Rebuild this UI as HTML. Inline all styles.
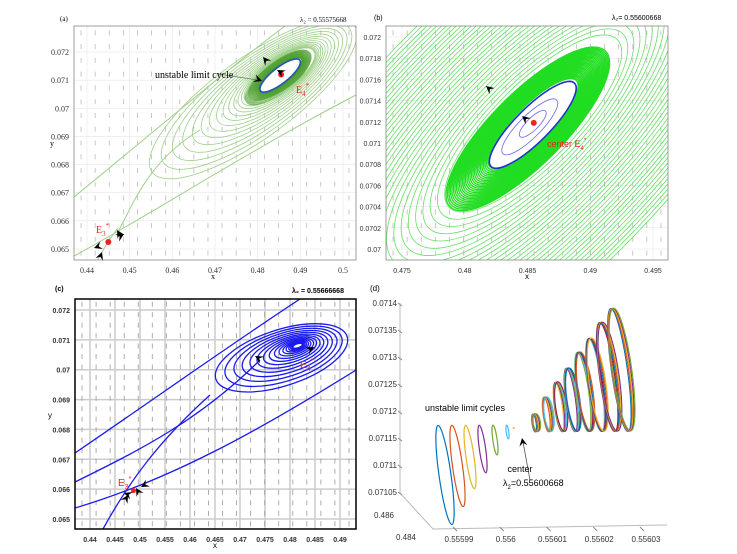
<!DOCTYPE html>
<html><head><meta charset="utf-8"><style>
body{margin:0;background:#fff;width:737px;height:554px;overflow:hidden}
svg{display:block}
.ser{font-family:"Liberation Serif",serif}
.san{font-family:"Liberation Sans",sans-serif}
</style></head><body>
<svg id="fig" width="737" height="554" viewBox="0 0 737 554" xmlns="http://www.w3.org/2000/svg">
<defs>
<clipPath id="ca"><rect x="74" y="26" width="282" height="234"/></clipPath>
<clipPath id="cb"><rect x="386" y="26" width="282" height="234"/></clipPath>
<clipPath id="cc"><rect x="75" y="299" width="281" height="230"/></clipPath>
</defs>
<g id="pa"></g>
<g id="pb"></g>
<g id="pc"></g>
<g id="pd"></g>
</svg>
<script>
// ---- data ----
const aXTicks=[0.44,0.45,0.46,0.47,0.48,0.49,0.5];
const aYTicks=[0.065,0.066,0.067,0.068,0.069,0.07,0.071,0.072];
const aE4=[0.4855,0.0712], aE3=[0.445,0.06525];
const bXTicks=[0.475,0.48,0.485,0.49,0.495];
const bYTicks=[0.07,0.0702,0.0704,0.0706,0.0708,0.071,0.0712,0.0714,0.0716,0.0718,0.072];
const bE4=[0.4855,0.07119];
const cXTicks=[0.44,0.445,0.45,0.455,0.46,0.465,0.47,0.475,0.48,0.485,0.49];
const cYTicks=[0.065,0.066,0.067,0.068,0.069,0.07,0.071,0.072];
const cE4=[0.4815,0.0708], cE3=[0.4487,0.06595];
const dZTicks=[0.07105,0.0711,0.07115,0.0712,0.07125,0.0713,0.07135,0.0714];
const dLamTicks=[0.55599,0.556,0.55601,0.55602,0.55603];
const dLeftLam=[0.555985,0.555989,0.555993,0.555997,0.556001,0.556005];
const dLeftAmp=[0.000050,0.000041,0.000032,0.000024,0.000015,0.000007];
const dCenterLam=0.55600668;
const dRightLam=[0.5560135,0.5560174,0.5560213,0.5560252,0.5560291,0.556033,0.5560369,0.5560408];
const dRightAmp=[0.000009,0.0000175,0.000025,0.000032,0.00004,0.000047,0.000055,0.000062];
const dColors=["#0072bd","#d95319","#edb120","#7e2f8e","#77ac30","#4dbeee","#a2142f"];
// ---- helpers ----
const NS="http://www.w3.org/2000/svg";
function mk(p,t,a,txt){const e=document.createElementNS(NS,t);for(const k in a)e.setAttribute(k,a[k]);if(txt!==undefined)e.textContent=txt;p.appendChild(e);return e;}
function lin(d0,d1,r0,r1){return v=>r0+(v-d0)*(r1-r0)/(d1-d0);}
function quiver(g,x0,y0,w,h,nx,ny,col){for(let i=0;i<nx;i++)for(let j=0;j<ny;j++){const x=x0+(i+0.5)*w/nx,y=y0+(j+0.5)*h/ny;const e=mk(g,'line',{x1:x,y1:y-2.5,x2:x,y2:y+2.5,stroke:col,'stroke-width':0.8});

}}
function arrow(g,x,y,ang,col){const e=mk(g,'path',{d:'M0,0 L-8,-4 L-5,0 L-8,4 Z',fill:col||'#000',transform:`translate(${x},${y}) rotate(${ang})`});

}
function frame(g,X,Y,xt,yt,x0,y0,w,h,cls,fmt,grid,fs,bold){
 mk(g,'rect',{x:x0,y:y0,width:w,height:h,fill:'#fff',stroke:'none'});
 xt.forEach(v=>{const x=X(v);if(grid)mk(g,'line',{x1:x,y1:y0,x2:x,y2:y0+h,stroke:grid,'stroke-width':grid=='#ccc'?1.5:0.6});
  const t=mk(g,'text',{x:x,y:y0+h+13,'text-anchor':'middle','font-size':fs,class:cls,'font-weight':bold?'bold':'normal',fill:'#333'},fmt(v));
  
  });
 yt.forEach(v=>{const y=Y(v);if(grid)mk(g,'line',{x1:x0,y1:y,x2:x0+w,y2:y,stroke:grid,'stroke-width':grid=='#ccc'?1.5:0.6});
  const t=mk(g,'text',{x:x0-5,y:y+3,'text-anchor':'end','font-size':fs,class:cls,'font-weight':bold?'bold':'normal',fill:'#333'},fmt(v));
  
  });
}
// ---- panel a ----
(function(){
 const g=document.getElementById('pa');
 const X=lin(0.44,0.5,87,343),Y=lin(0.065,0.072,249,52);
 frame(g,X,Y,aXTicks,aYTicks,74,26,282,234,'ser',v=>String(+v.toFixed(3)),'#e6e6e6',8);
 quiver(g,74,26,282,234,20,17,'#bbb');
 const c=mk(g,'g',{'clip-path':'url(#ca)'});
 const cx=X(aE4[0]),cy=Y(aE4[1]);
 for(let k=0;k<26;k++){const s=k/25,a=26+s*s*14,b=8+s*s*7,ox=-s*3,oy=s*3;
  mk(c,'ellipse',{cx:cx+ox,cy:cy+oy,rx:a,ry:b,transform:`rotate(-38 ${cx+ox} ${cy+oy})`,fill:'none',stroke:'#4fa030','stroke-width':1.2,opacity:0.7});}
 for(let k=0;k<16;k++){const s=(k+1)/16,a=40+s*s*85,b=15+s*s*25,ox=-s*s*28,oy=s*s*24;
  mk(c,'ellipse',{cx:cx+ox,cy:cy+oy,rx:a,ry:b,transform:`rotate(-36 ${cx+ox} ${cy+oy})`,fill:'none',stroke:'#9fd08a','stroke-width':0.8});}
 const sep=['M74,197 C150,135 220,75 285,26','M118,232 C135,200 150,160 200,130','M74,256 C150,215 250,150 356,95','M97,262 C105,245 112,236 118,228'];
 sep.forEach(d=>{const p=mk(c,'path',{d:d,fill:'none',stroke:'#9fd08a','stroke-width':1});
  
  });
 const lc=mk(c,'ellipse',{cx:cx-1,cy:cy+1,rx:25,ry:8,transform:`rotate(-38 ${cx-1} ${cy+1})`,fill:'#fff',stroke:'#2a5aa8','stroke-width':1.8});
 
 
 mk(g,'rect',{x:74,y:26,width:282,height:234,fill:'none',stroke:'#888','stroke-width':0.8});
 mk(g,'circle',{cx:cx,cy:cy,r:3,fill:'#e22'});mk(g,'circle',{cx:X(aE3[0]),cy:Y(aE3[1]),r:3,fill:'#e22'});
 arrow(g,263,57,-130);arrow(g,277,70,-150);arrow(g,262,81,20);arrow(g,117,230,-120);arrow(g,124,234,-30);arrow(g,94,248,160);arrow(g,102,252,-70);
 mk(g,'line',{x1:218,y1:74,x2:258,y2:80,stroke:'#666','stroke-width':0.7});
 mk(g,'text',{x:155,y:78,'font-size':10,class:'ser'},'unstable limit cycle');
 mk(g,'text',{x:296,y:93,'font-size':10,class:'ser',fill:'#e22'}).innerHTML='E<tspan dy="3" font-size="7">4</tspan><tspan dy="-8" font-size="7">*</tspan>';
 mk(g,'text',{x:96,y:233,'font-size':10,class:'ser',fill:'#e22'}).innerHTML='E<tspan dy="3" font-size="7">3</tspan><tspan dy="-8" font-size="7">*</tspan>';
 mk(g,'text',{x:60,y:21,'font-size':7,class:'ser'},'(a)');
 mk(g,'text',{x:300,y:22,'font-size':7,class:'ser'},'λ₂ = 0.55575668');
 mk(g,'text',{x:213,y:279,'font-size':8,class:'ser','text-anchor':'middle'},'x');
 mk(g,'text',{x:50,y:146,'font-size':8,class:'ser'},'y');
})();
// ---- panel b ----
(function(){
 const g=document.getElementById('pb');
 const X=lin(0.475,0.495,402,653),Y=lin(0.07,0.072,249,37);
 frame(g,X,Y,bXTicks,bYTicks,386,26,282,234,'san',v=>String(+v.toFixed(4)),'#e6e6e6',7);
 quiver(g,386,26,282,234,20,17,'#bbb');
 const c=mk(g,'g',{'clip-path':'url(#cb)'});
 const cx=X(bE4[0]),cy=Y(bE4[1]);
 for(let k=0;k<30;k++){const s=k/29,a=60+s*50,b=18+s*18,ox=-s*6,oy=s*6;
  mk(c,'ellipse',{cx:cx+ox,cy:cy+oy,rx:a,ry:b,transform:`rotate(-45 ${cx+ox} ${cy+oy})`,fill:'none',stroke:'#22dd22','stroke-width':1.3});}
 for(let k=0;k<34;k++){const s=(k+1)/34,a=110+s*300,b=36+s*115,ox=-s*20,oy=s*20;
  mk(c,'ellipse',{cx:cx+ox,cy:cy+oy,rx:a,ry:b,transform:`rotate(-45 ${cx+ox} ${cy+oy})`,fill:'none',stroke:'#66e066','stroke-width':0.8});}
 const lc=mk(c,'ellipse',{cx:cx-1,cy:cy+2,rx:59,ry:17,transform:`rotate(-45 ${cx-1} ${cy+2})`,fill:'#fff',stroke:'#2233cc','stroke-width':1.6});
 
 
 mk(c,'ellipse',{cx:cx-4,cy:cy+4,rx:38,ry:11,transform:`rotate(-45 ${cx-4} ${cy+4})`,fill:'none',stroke:'#6666ee','stroke-width':0.8});
 mk(c,'ellipse',{cx:cx-1,cy:cy+1,rx:18,ry:6,transform:`rotate(-45 ${cx-1} ${cy+1})`,fill:'none',stroke:'#6666ee','stroke-width':0.8});
 mk(g,'rect',{x:386,y:26,width:282,height:234,fill:'none',stroke:'#888','stroke-width':0.8});
 mk(g,'circle',{cx:cx,cy:cy,r:3,fill:'#e22'});
 arrow(g,486,86,-140);arrow(g,522,116,-140);
 mk(g,'text',{x:547,y:147,'font-size':9,class:'san',fill:'#e22'}).innerHTML='center E<tspan dy="3" font-size="6">4</tspan><tspan dy="-8" font-size="6">*</tspan>';
 mk(g,'text',{x:374,y:20,'font-size':7,class:'san'},'(b)');
 mk(g,'text',{x:612,y:20,'font-size':7,class:'san'},'λ₂= 0.55600668');
 mk(g,'text',{x:527,y:279,'font-size':8,class:'san','text-anchor':'middle'},'x');
})();
// ---- panel c ----
(function(){
 const g=document.getElementById('pc');
 const X=lin(0.44,0.49,90,340),Y=lin(0.065,0.072,519,310);
 frame(g,X,Y,cXTicks,cYTicks,75,299,281,230,'san',v=>String(+v.toFixed(3)),'#ccc',7,true);
 quiver(g,75,299,281,230,20,22,'#999');
 const c=mk(g,'g',{'clip-path':'url(#cc)'});
 const cx=X(cE4[0]),cy=Y(cE4[1]);
 for(let k=0;k<16;k++){const s=k/15,a=5+s*s*58+s*6,b=2+s*s*24+s*2,ox=-s*s*16,oy=s*s*12;
  mk(c,'ellipse',{cx:cx+ox,cy:cy+oy,rx:a,ry:b,transform:`rotate(-18 ${cx+ox} ${cy+oy})`,fill:'none',stroke:'#1a1aee','stroke-width':1.3});}
 const sep=['M75,453 C160,395 230,345 300,299','M75,482 C140,450 200,420 260,360','M75,508 C170,480 260,430 356,370','M103,529 C130,480 160,440 210,395'];
 sep.forEach(d=>{const p=mk(c,'path',{d:d,fill:'none',stroke:'#1a1aee','stroke-width':1.3});
  
  });
 mk(g,'rect',{x:75,y:299,width:281,height:230,fill:'none',stroke:'#000','stroke-width':1.5});
 mk(g,'circle',{cx:X(cE3[0]),cy:Y(cE3[1]),r:2.5,fill:'#e22'});
 arrow(g,255,356,-150);arrow(g,314,347,-30);arrow(g,136,488,-120);arrow(g,141,487,150);arrow(g,124,493,-160);arrow(g,128,495,-60);
 mk(g,'text',{x:300,y:368,'font-size':10,class:'san',fill:'#e22'}).innerHTML='E<tspan dy="3" font-size="7">4</tspan><tspan dy="-8" font-size="7">*</tspan>';
 mk(g,'text',{x:118,y:486,'font-size':10,class:'san',fill:'#e22'}).innerHTML='E<tspan dy="3" font-size="7">3</tspan><tspan dy="-8" font-size="7">*</tspan>';
 mk(g,'text',{x:55,y:291,'font-size':7,class:'san','font-weight':'bold'},'(c)');
 mk(g,'text',{x:292,y:293,'font-size':7,class:'san','font-weight':'bold'},'λ₂ = 0.55666668');
 mk(g,'text',{x:215,y:548,'font-size':8,class:'san','text-anchor':'middle'},'x');
 mk(g,'text',{x:48,y:418,'font-size':8,class:'san'},'y');
})();
// ---- panel d ----
(function(){
 const g=document.getElementById('pd');
 const Z=lin(0.07105,0.0714,492,303);
 const L=lin(0.55599,0.55603,460,647);
 mk(g,'path',{d:'M400,303 L400,493 L433,529 L667,525',fill:'none',stroke:'#bbb','stroke-width':1});
 dZTicks.forEach(v=>{const y=Z(v);mk(g,'line',{x1:398,y1:y,x2:402,y2:y+3,stroke:'#888'});
  const t=mk(g,'text',{x:397,y:y+3,'text-anchor':'end','font-size':8,class:'san',fill:'#333'},String(v));
  
  });
 dLamTicks.forEach(v=>{const x=L(v)-7;mk(g,'line',{x1:x,y1:527,x2:x+4,y2:531,stroke:'#888'});
  const t=mk(g,'text',{x:x+6,y:542,'text-anchor':'middle','font-size':8,class:'san',fill:'#333'},String(v));
  
  });
 mk(g,'text',{x:394,y:518,'text-anchor':'end','font-size':8,class:'san',fill:'#333'},'0.486');
 mk(g,'text',{x:416,y:540,'text-anchor':'end','font-size':8,class:'san',fill:'#333'},'0.484');
 const PX=lin(0.555985,0.556009,445,520);
 const AS=a=>a*1000000;
 dLeftLam.forEach((lam,i)=>{const h=AS(dLeftAmp[i]),x=PX(lam),y=425+h;
  const e=mk(g,'ellipse',{cx:x,cy:y,rx:Math.max(1,h*0.11+0.5),ry:Math.max(1,h),transform:`rotate(-8 ${x} ${y})`,fill:'none',stroke:dColors[i%dColors.length],'stroke-width':1.2});
  
  });
 mk(g,'circle',{cx:PX(dCenterLam)+1,cy:428,r:1,fill:'#edb120'});
 dRightLam.forEach((lam,i)=>{const h=AS(dRightAmp[i]),x=PX(lam),y=432-h;
  for(let k=0;k<5;k++){const e=mk(g,'ellipse',{cx:x+k*0.7,cy:y,rx:Math.min(8,h*0.12+1)+k*0.4,ry:h,transform:`rotate(-8 ${x} ${y})`,fill:'none',stroke:dColors[(i+k)%dColors.length],'stroke-width':1.1});
  
  }});
 mk(g,'line',{x1:530,y1:480,x2:523,y2:442,stroke:'#555','stroke-width':0.8});
 arrow(g,522,438,-100);
 mk(g,'text',{x:425,y:411,'font-size':9,class:'san'},'unstable limit cycles');
 mk(g,'text',{x:520,y:472,'font-size':9,class:'san','text-anchor':'middle'},'center');
 mk(g,'text',{x:503,y:486,'font-size':9,class:'san'}).innerHTML='λ<tspan dy="3" font-size="6">2</tspan><tspan dy="-3">=0.55600668</tspan>';
 mk(g,'text',{x:370,y:291,'font-size':8,class:'san'},'(d)');
})();
</script>
</body></html>
